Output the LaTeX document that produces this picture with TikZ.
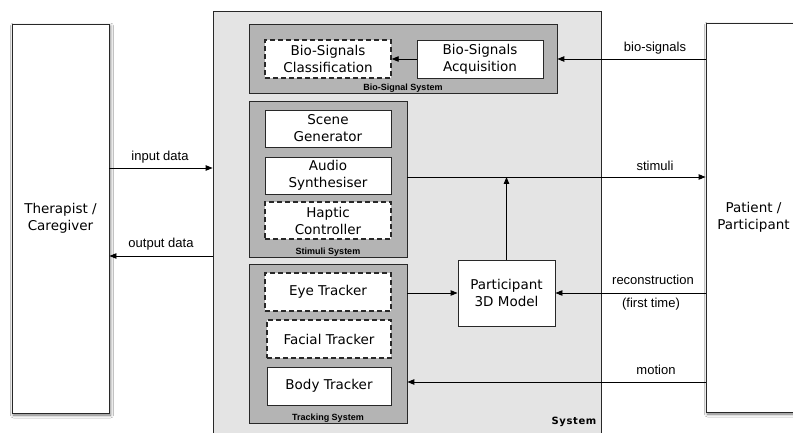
\documentclass[tikz,border=0pt]{standalone}
\usepackage{fontspec}
\setmainfont{DejaVu Sans}
\newfontfamily\labfont{Liberation Sans}
\usetikzlibrary{arrows.meta,shadows.blur,calc}
\definecolor{sysfill}{RGB}{228,228,228}
\definecolor{subfill}{RGB}{180,180,180}
\definecolor{edge}{RGB}{40,40,40}
\tikzset{
  box/.style={draw=edge, fill=white, line width=0.9pt, align=center, inner sep=0pt,
    font=\fontsize{13.5}{17}\selectfont},
  dbox/.style={box, line width=1.4pt, dash pattern=on 5pt off 3pt},
  actor/.style={box, blur shadow={shadow xshift=1.5pt, shadow yshift=-2pt, shadow blur radius=3pt, shadow opacity=55}},
  subsys/.style={draw=edge, fill=subfill, line width=0.8pt, inner sep=0pt},
  bigsys/.style={draw=edge, fill=sysfill, line width=0.8pt, inner sep=0pt},
  arr/.style={-{Triangle[length=7pt,width=5.5pt]}, line width=0.9pt, draw=black},
  lbl/.style={font=\labfont\fontsize{13}{15}\selectfont, inner sep=0pt},
  sublbl/.style={font=\labfont\bfseries\fontsize{9}{10}\selectfont, inner sep=0pt},
}
\begin{document}
\begin{tikzpicture}[x=1pt,y=-1pt]
\clip (0,0) rectangle (793,433);
\fill[white] (0,0) rectangle (793,433);

% actors
\node[actor, minimum width=97pt, minimum height=389pt] (ther) at (60.5,218.5) {Therapist /\\Caregiver};
\node[actor, minimum width=95pt, minimum height=389pt] (pat) at (753.5,217.5) {Patient /\\Participant};

% main system
\node[bigsys, minimum width=388pt, minimum height=440pt] (sys) at (407,231) {};
\node[font=\bfseries\fontsize{10}{12}\selectfont, inner sep=0pt] (syslbl) at (574,422) {S\kern0.6pt y\kern0.6pt s\kern0.6pt t\kern0.6pt e\kern0.6pt m};

% subsystems
\node[subsys, minimum width=308pt, minimum height=69pt] (bio) at (403,58.5) {};
\node[subsys, minimum width=158pt, minimum height=156pt] (stim) at (328,179) {};
\node[subsys, minimum width=158pt, minimum height=159pt] (track) at (328,343.5) {};
\node[sublbl] (biolbl) at (403,88) {Bio-Signal System};
\node[sublbl] (stimlbl) at (328,252) {Stimuli System};
\node[sublbl] (tracklbl) at (328,418) {Tracking System};

% inner boxes
\node[dbox, minimum width=126pt, minimum height=38pt] (cls) at (328,59) {Bio-Signals\\Classification};
\node[box, minimum width=126pt, minimum height=38pt] (acq) at (480,59) {Bio-Signals\\Acquisition};
\node[box, minimum width=126pt, minimum height=37pt] (scene) at (328,128.5) {Scene\\Generator};
\node[box, minimum width=126pt, minimum height=37pt] (audio) at (328,175.5) {Audio\\Synthesiser};
\node[dbox, minimum width=126pt, minimum height=37pt] (hapt) at (328,220.5) {Haptic\\Controller};
\node[dbox, minimum width=126pt, minimum height=38pt] (eye) at (328,292) {Eye Tracker};
\node[dbox, minimum width=124pt, minimum height=38pt] (face) at (329,339) {Facial Tracker};
\node[box, minimum width=124pt, minimum height=38pt] (body) at (329,386) {Body Tracker};
\node[box, minimum width=97pt, minimum height=66pt] (model) at (506.5,293) {Participant\\3D Model};

% connector anchor points
\coordinate (inY) at (0,168);
\coordinate (outY) at (0,256);
\coordinate (stimY) at (0,177);
\coordinate (motY) at (0,382);
\coordinate (stimJ) at (model.north |- stimY);

% connectors
\draw[arr] (ther.east |- inY) -- (sys.west |- inY);
\draw[arr] (sys.west |- outY) -- (ther.east |- outY);
\draw[arr] (pat.west |- acq) -- (bio.east |- acq);
\draw[arr] (acq.west) -- (cls.east);
\draw[arr] (stim.east |- stimY) -- (pat.west |- stimY);
\draw[arr] (model.north) -- (stimJ);
\draw[arr] (pat.west |- model) -- (model.east);
\draw[arr] (track.east |- model) -- (model.west);
\draw[arr] (pat.west |- motY) -- (track.east |- motY);

% connector labels
\node[lbl] (l1) at (160,157) {input data};
\node[lbl] (l2) at (161,244) {output data};
\node[lbl] (l3) at (655,48) {bio-signals};
\node[lbl] (l4) at (655,166) {stimuli};
\node[lbl] (l5) at (653,280) {reconstruction};
\node[lbl] (l6) at (651,304) {(first time)};
\node[lbl] (l7) at (656,370) {motion};
\end{tikzpicture}
\end{document}
